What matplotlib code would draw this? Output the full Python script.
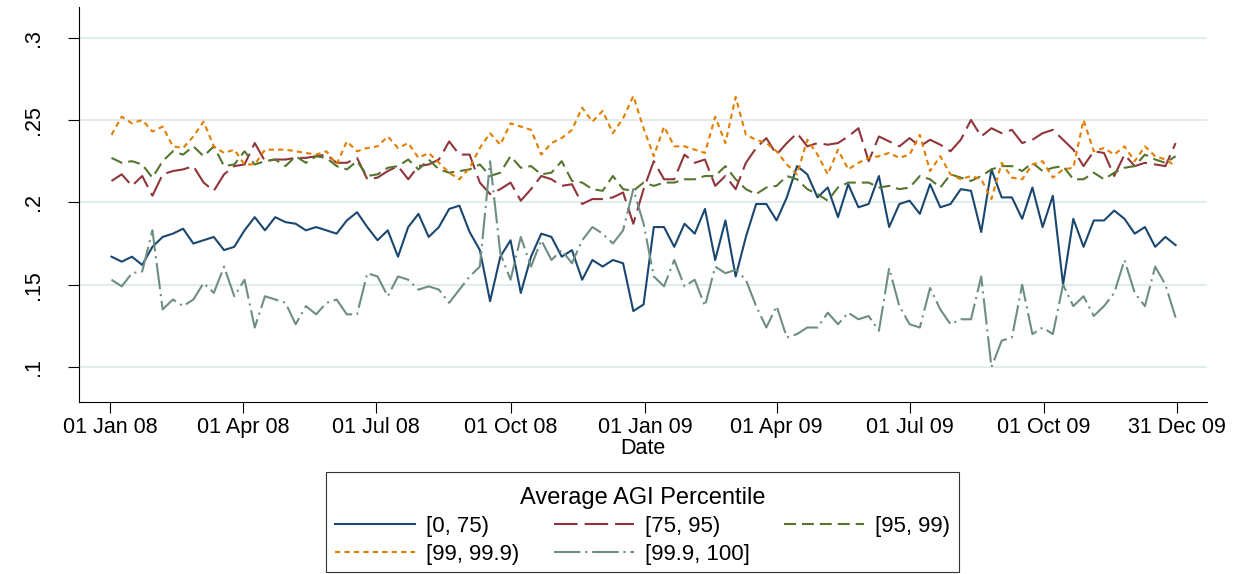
import pandas as pd
import matplotlib
matplotlib.use("Agg")
import matplotlib.pyplot as plt
from matplotlib.patches import Rectangle

# weekly readings of the daily series (Wed 02 Jan 08 .. Wed 30 Dec 09)
dates = pd.date_range("2008-01-02", periods=105, freq="7D")

p0_75 = [
    0.167, 0.164, 0.167, 0.162, 0.173, 0.179, 0.181, 0.184, 0.175, 0.177,
    0.179, 0.171, 0.173, 0.183, 0.191, 0.183, 0.191, 0.188, 0.187, 0.183,
    0.185, 0.183, 0.181, 0.189, 0.194, 0.185, 0.177, 0.183, 0.167, 0.185,
    0.193, 0.179, 0.185, 0.196, 0.198, 0.182, 0.171, 0.140, 0.167, 0.177,
    0.145, 0.167, 0.181, 0.179, 0.167, 0.171, 0.153, 0.165, 0.161, 0.165,
    0.163, 0.134, 0.138, 0.185, 0.185, 0.173, 0.187, 0.181, 0.196, 0.165,
    0.189, 0.155, 0.179, 0.199, 0.199, 0.189, 0.203, 0.222, 0.217, 0.203,
    0.209, 0.191, 0.211, 0.197, 0.199, 0.216, 0.185, 0.199, 0.201, 0.193,
    0.211, 0.197, 0.199, 0.208, 0.207, 0.182, 0.220, 0.203, 0.203, 0.190,
    0.209, 0.185, 0.204, 0.150, 0.190, 0.173, 0.189, 0.189, 0.195, 0.190,
    0.181, 0.185, 0.173, 0.179, 0.174,
]
p75_95 = [
    0.213, 0.217, 0.210, 0.216, 0.204, 0.217, 0.219, 0.220, 0.222, 0.212,
    0.207, 0.217, 0.222, 0.223, 0.236, 0.225, 0.226, 0.226, 0.227, 0.227,
    0.228, 0.229, 0.224, 0.224, 0.227, 0.214, 0.215, 0.219, 0.222, 0.214,
    0.222, 0.223, 0.226, 0.237, 0.229, 0.229, 0.212, 0.205, 0.208, 0.212,
    0.201, 0.208, 0.216, 0.214, 0.210, 0.211, 0.199, 0.202, 0.202, 0.203,
    0.206, 0.187, 0.208, 0.225, 0.214, 0.214, 0.229, 0.224, 0.226, 0.210,
    0.216, 0.208, 0.224, 0.233, 0.239, 0.229, 0.236, 0.242, 0.234, 0.236,
    0.235, 0.236, 0.240, 0.245, 0.225, 0.240, 0.237, 0.234, 0.239, 0.234,
    0.238, 0.235, 0.231, 0.238, 0.250, 0.240, 0.245, 0.242, 0.244, 0.236,
    0.238, 0.242, 0.244, 0.238, 0.232, 0.222, 0.231, 0.230, 0.216, 0.229,
    0.222, 0.224, 0.223, 0.222, 0.236,
]
p95_99 = [
    0.227, 0.224, 0.225, 0.223, 0.215, 0.225, 0.231, 0.229, 0.234, 0.228,
    0.234, 0.222, 0.223, 0.231, 0.223, 0.225, 0.226, 0.222, 0.228, 0.224,
    0.228, 0.227, 0.222, 0.220, 0.225, 0.216, 0.217, 0.221, 0.222, 0.226,
    0.220, 0.226, 0.220, 0.218, 0.219, 0.220, 0.223, 0.216, 0.218, 0.228,
    0.221, 0.222, 0.217, 0.218, 0.225, 0.213, 0.212, 0.208, 0.207, 0.216,
    0.208, 0.207, 0.212, 0.210, 0.212, 0.212, 0.214, 0.214, 0.216, 0.216,
    0.222, 0.214, 0.208, 0.205, 0.209, 0.210, 0.216, 0.214, 0.208, 0.205,
    0.201, 0.209, 0.212, 0.212, 0.212, 0.209, 0.210, 0.208, 0.209, 0.216,
    0.214, 0.209, 0.217, 0.215, 0.213, 0.216, 0.220, 0.222, 0.222, 0.219,
    0.224, 0.219, 0.221, 0.222, 0.214, 0.214, 0.218, 0.214, 0.218, 0.221,
    0.222, 0.229, 0.226, 0.224, 0.228,
]
p99_999 = [
    0.241, 0.252, 0.248, 0.250, 0.243, 0.246, 0.234, 0.233, 0.240, 0.249,
    0.234, 0.230, 0.232, 0.223, 0.223, 0.232, 0.232, 0.232, 0.231, 0.230,
    0.229, 0.231, 0.223, 0.237, 0.231, 0.233, 0.234, 0.240, 0.233, 0.236,
    0.227, 0.230, 0.224, 0.218, 0.214, 0.221, 0.233, 0.242, 0.235, 0.248,
    0.246, 0.244, 0.229, 0.236, 0.239, 0.244, 0.2575, 0.249, 0.2555, 0.242,
    0.251, 0.2646, 0.245, 0.228, 0.246, 0.234, 0.234, 0.232, 0.230, 0.252,
    0.236, 0.264, 0.241, 0.238, 0.236, 0.231, 0.223, 0.217, 0.238, 0.229,
    0.217, 0.232, 0.220, 0.224, 0.227, 0.228, 0.230, 0.227, 0.229, 0.241,
    0.219, 0.228, 0.217, 0.214, 0.216, 0.214, 0.202, 0.224, 0.215, 0.214,
    0.223, 0.225, 0.215, 0.220, 0.221, 0.250, 0.231, 0.233, 0.229, 0.234,
    0.225, 0.234, 0.228, 0.226, 0.222,
]
p999_100 = [
    0.153, 0.149, 0.157, 0.158, 0.183, 0.135, 0.141, 0.137, 0.141, 0.151,
    0.145, 0.161, 0.143, 0.153, 0.124, 0.143, 0.141, 0.139, 0.126, 0.137,
    0.132, 0.139, 0.141, 0.132, 0.132, 0.157, 0.155, 0.143, 0.155, 0.153,
    0.147, 0.149, 0.147, 0.139, 0.147, 0.155, 0.161, 0.225, 0.169, 0.153,
    0.179, 0.161, 0.177, 0.165, 0.171, 0.163, 0.177, 0.185, 0.181, 0.175,
    0.183, 0.208, 0.187, 0.155, 0.149, 0.165, 0.149, 0.153, 0.137, 0.161,
    0.157, 0.159, 0.153, 0.137, 0.124, 0.137, 0.118, 0.120, 0.124, 0.124,
    0.133, 0.126, 0.133, 0.129, 0.131, 0.122, 0.160, 0.137, 0.126, 0.124,
    0.148, 0.135, 0.126, 0.129, 0.129, 0.155, 0.100, 0.116, 0.118, 0.150,
    0.120, 0.124, 0.120, 0.150, 0.137, 0.143, 0.131, 0.137, 0.145, 0.165,
    0.145, 0.137, 0.161, 0.150, 0.130,
]

series_labels = ["[0, 75)", "[75, 95)", "[95, 99)", "[99, 99.9)", "[99.9, 100]"]
tick_dates = ["2008-01-01", "2008-04-01", "2008-07-01", "2008-10-01",
              "2009-01-01", "2009-04-01", "2009-07-01", "2009-10-01",
              "2009-12-31"]
tick_labels = ["01 Jan 08", "01 Apr 08", "01 Jul 08", "01 Oct 08",
               "01 Jan 09", "01 Apr 09", "01 Jul 09", "01 Oct 09",
               "31 Dec 09"]
y_ticks = [0.1, 0.15, 0.2, 0.25, 0.3]
y_tick_labels = [".1", ".15", ".2", ".25", ".3"]

plt.rcParams["font.family"] = ["Liberation Sans", "DejaVu Sans"]
plt.rcParams["lines.scale_dashes"] = False

colors = ["#1a476f", "#90353b", "#55752f", "#e37e00", "#6e8e84"]
dash_styles = [None, (0, (17, 5)), (0, (8.6, 4.3)), (0, (3.8, 3.0)),
               (0, (19, 3.5, 1.5, 3.5))]

fig = plt.figure(figsize=(12.37, 5.74), dpi=100)
ax = fig.add_axes([0.0639, 0.2997, 0.9119, 0.6881])

handles = []
all_series = [p0_75, p75_95, p95_99, p99_999, p999_100]
for vals, lab, col, ds in zip(all_series, series_labels, colors, dash_styles):
    if ds is None:
        ln, = ax.plot(dates, vals, color=col, lw=1.5, label=lab)
    else:
        ln, = ax.plot(dates, vals, color=col, lw=1.5, linestyle=ds, label=lab)
    handles.append(ln)

start = pd.Timestamp("2008-01-01")
ax.set_xlim(start - pd.Timedelta(days=21.2), start + pd.Timedelta(days=750.5))
ax.set_ylim(0.0788, 0.3186)

ax.set_xticks(pd.to_datetime(tick_dates))
ax.set_xticklabels(tick_labels, fontsize=15.5)
ax.set_yticks(y_ticks)
ax.set_yticklabels(y_tick_labels, fontsize=15.5, rotation=90, va="center")
ax.tick_params(axis="x", length=8, width=0.8, pad=3)
ax.tick_params(axis="y", length=8, width=0.8, pad=17)
ax.set_xlabel("Date", fontsize=15.5, labelpad=0)

ax.grid(axis="y", color="#e2ecef", lw=1.5)
ax.set_axisbelow(True)
for side in ["top", "right"]:
    ax.spines[side].set_visible(False)
for side in ["left", "bottom"]:
    ax.spines[side].set_linewidth(0.8)

# row-major order for a 3-column legend
order = [0, 3, 1, 4, 2]
leg = fig.legend([handles[i] for i in order], [series_labels[i] for i in order],
                 loc="lower center", bbox_to_anchor=(0.5194, 0.003), ncol=3,
                 title="Average AGI Percentile", fontsize=16,
                 title_fontsize=17, frameon=False, handlelength=3.6,
                 columnspacing=1.55, handletextpad=0.5, borderpad=0.35,
                 labelspacing=0.3, borderaxespad=0)

# legend box drawn separately so the space above the title matches
fig.patches.append(Rectangle((326 / 1237, 2 / 574), 633 / 1237, 100 / 574,
                             transform=fig.transFigure, fill=False,
                             edgecolor="#333333", lw=0.8))

fig.savefig("out.png", dpi=100, facecolor="white")
